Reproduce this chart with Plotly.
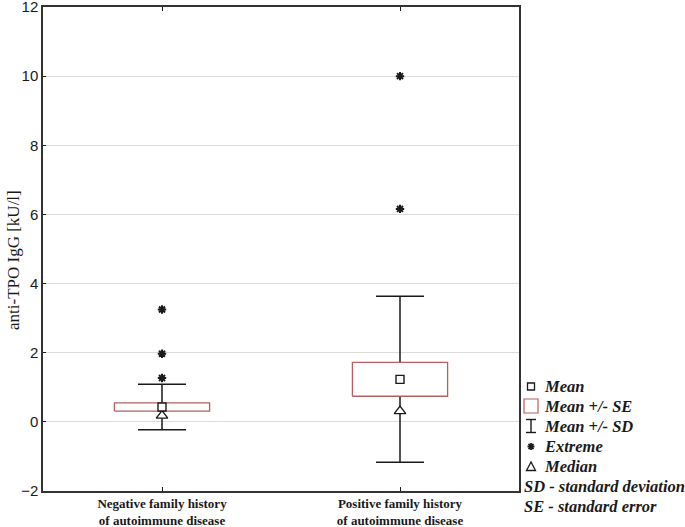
import plotly.graph_objects as go

# ---------------- data ----------------
groups = ["Negative family history<br>of autoimmune disease",
          "Positive family history<br>of autoimmune disease"]
means = [0.43, 1.23]
se = [0.12, 0.49]
sd = [0.66, 2.40]
medians = [0.18, 0.31]
extreme_group = [0, 0, 0, 1, 1]
extreme_values = [3.25, 1.97, 1.27, 10.0, 6.16]
y_ticks = [-2, 0, 2, 4, 6, 8, 10, 12]
y_title = "anti-TPO IgG [kU/l]"
legend_items = ["Mean", "Mean +/- SE", "Mean +/- SD", "Extreme", "Median"]
legend_notes = ["SD - standard deviation", "SE - standard error"]

# ---------------- style ----------------
W, H = 685, 527
ML, MR, MT, MB = 43, 166, 7, 36
BOX_HALF = 0.2
BOX_COLOR = "#b5605f"
INK = "#1a1a1a"
SERIF = "Liberation Serif"
SANS = "Liberation Sans"

xpos = list(range(len(groups)))

fig = go.Figure()

# whiskers: mean +/- SD
fig.add_trace(go.Scatter(
    x=xpos, y=means, mode="markers",
    marker=dict(size=1, opacity=0),
    error_y=dict(type="data", array=sd, symmetric=True,
                 color=INK, thickness=1.5, width=24),
    hoverinfo="skip", showlegend=False))

# boxes: mean +/- SE (white filled to hide whisker line)
for x, m, s in zip(xpos, means, se):
    fig.add_trace(go.Scatter(
        x=[x - BOX_HALF, x + BOX_HALF, x + BOX_HALF, x - BOX_HALF, x - BOX_HALF],
        y=[m - s, m - s, m + s, m + s, m - s],
        mode="lines", fill="toself", fillcolor="white",
        line=dict(color=BOX_COLOR, width=1.3),
        hoverinfo="skip", showlegend=False))

# medians
fig.add_trace(go.Scatter(
    x=xpos, y=medians, mode="markers",
    marker=dict(symbol="triangle-up", size=10, color="white",
                line=dict(color=INK, width=1.4)),
    hoverinfo="skip", showlegend=False))

# means
fig.add_trace(go.Scatter(
    x=xpos, y=means, mode="markers",
    marker=dict(symbol="square", size=8, color="white",
                line=dict(color=INK, width=1.4)),
    hoverinfo="skip", showlegend=False))

# extremes
fig.add_trace(go.Scatter(
    x=[xpos[g] for g in extreme_group], y=extreme_values, mode="markers",
    marker=dict(symbol="asterisk-open", size=7, color=INK,
                line=dict(color=INK, width=2)),
    hoverinfo="skip", showlegend=False))

# ---------------- legend (drawn in paper coords) ----------------
PW = W - ML - MR
PH = H - MT - MB


def px(xp):
    return (xp - ML) / PW


def py(yp):
    return (H - MB - yp) / PH


shapes = []
annotations = []
row_y = [386.5, 406, 426, 446.5, 466.5]
sym_x = 531
text_x = 542
lfont = dict(family=SERIF, size=16.5, color=INK, weight="bold", style="italic")

for label, yy in zip(legend_items, row_y):
    annotations.append(dict(x=px(text_x), y=py(yy), xref="paper", yref="paper",
                            text=label, showarrow=False, xanchor="left",
                            yanchor="middle", font=lfont))
# Mean square
shapes.append(dict(type="rect", xref="paper", yref="paper",
                   x0=px(sym_x - 3.5), x1=px(sym_x + 3.5),
                   y0=py(row_y[0] + 3.5), y1=py(row_y[0] - 3.5),
                   line=dict(color=INK, width=1.3)))
# SE rectangle
shapes.append(dict(type="rect", xref="paper", yref="paper",
                   x0=px(sym_x - 7), x1=px(sym_x + 7),
                   y0=py(row_y[1] + 7), y1=py(row_y[1] - 7),
                   line=dict(color=BOX_COLOR, width=1.2)))
# SD I-bar
yc = row_y[2]
for (xa, ya, xb, yb) in [(sym_x, yc - 6.5, sym_x, yc + 6.5),
                         (sym_x - 5, yc - 6.5, sym_x + 5, yc - 6.5),
                         (sym_x - 5, yc + 6.5, sym_x + 5, yc + 6.5)]:
    shapes.append(dict(type="line", xref="paper", yref="paper",
                       x0=px(xa), y0=py(ya), x1=px(xb), y1=py(yb),
                       line=dict(color=INK, width=1.4)))
# Extreme asterisk
yc = row_y[3]
for (dx, dy) in [(0, 3.5), (3.5, 0), (2.5, 2.5), (2.5, -2.5)]:
    shapes.append(dict(type="line", xref="paper", yref="paper",
                       x0=px(sym_x - dx), y0=py(yc - dy),
                       x1=px(sym_x + dx), y1=py(yc + dy),
                       line=dict(color=INK, width=1.8)))
# Median triangle
yc = row_y[4]
shapes.append(dict(type="path", xref="paper", yref="paper",
                   path="M {} {} L {} {} L {} {} Z".format(
                       px(sym_x), py(yc - 4.5), px(sym_x - 4.5), py(yc + 4),
                       px(sym_x + 4.5), py(yc + 4)),
                   line=dict(color=INK, width=1.3)))

for note, yy in zip(legend_notes, [486.5, 506.5]):
    annotations.append(dict(x=px(522), y=py(yy), xref="paper", yref="paper",
                            text=note, showarrow=False, xanchor="left",
                            yanchor="middle", font=lfont))

# y-axis title
annotations.append(dict(x=px(13), y=py(260), xref="paper", yref="paper",
                        text=y_title, textangle=-90, showarrow=False,
                        xanchor="center", yanchor="middle",
                        font=dict(family=SERIF, size=17, color=INK)))

fig.update_layout(
    template="none",
    width=W, height=H,
    margin=dict(l=ML, r=MR, t=MT, b=MB, autoexpand=False),
    paper_bgcolor="white", plot_bgcolor="white",
    showlegend=False,
    shapes=shapes, annotations=annotations,
    xaxis=dict(range=[-0.5, 1.5], tickmode="array", tickvals=xpos,
               ticktext=groups, ticks="inside", ticklen=4, tickcolor=INK,
               showline=True, linecolor="#333333", linewidth=1.5,
               mirror="ticks", showgrid=False, zeroline=False,
               automargin=False, ticklabeloverflow="allow",
               tickfont=dict(family=SERIF, size=13, color=INK, weight="bold")),
    yaxis=dict(range=[-2, 12], tickmode="array", tickvals=y_ticks,
               ticks="inside", ticklen=3, tickcolor=INK,
               showline=True, linecolor="#333333", linewidth=1.5,
               mirror=True, showgrid=True, gridcolor="#dcdcdc",
               gridwidth=1, zeroline=False, automargin=False,
               ticklabeloverflow="allow",
               tickfont=dict(family=SANS, size=15, color=INK)),
)

fig.write_html(
    "out.html",
    config={"displayModeBar": False},
    post_script="document.body.style.margin='0px';document.body.style.overflow='hidden';",
)
